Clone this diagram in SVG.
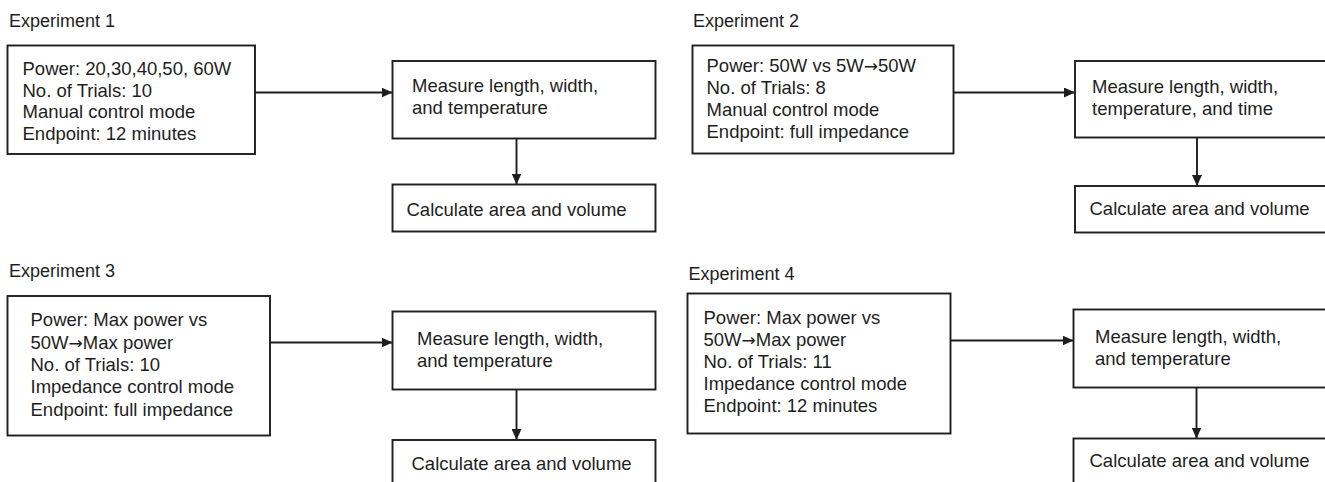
<svg xmlns="http://www.w3.org/2000/svg" width="1325" height="482" viewBox="0 0 1325 482">
  <style>
    .box { fill: #ffffff; stroke: #1e1e1e; stroke-width: 1.9; }
    .t { font-family: "Liberation Sans", Arial, sans-serif; font-size: 18.5px; fill: #1e1e1e; }
    .title { font-family: "Liberation Sans", Arial, sans-serif; font-size: 18px; fill: #1e1e1e; }
    .ar { font-family: "DejaVu Sans", sans-serif; font-size: 17px; }
    .edge { fill: none; stroke: #1e1e1e; stroke-width: 1.9; marker-end: url(#arrow); }
  </style>
  <defs>
    <marker id="arrow" markerWidth="11" markerHeight="10" refX="11" refY="5" orient="auto" markerUnits="userSpaceOnUse">
      <path d="M0,0 L11,5 L0,10 z" fill="#1e1e1e"/>
    </marker>
  </defs>
  <rect width="1325" height="482" fill="#ffffff"/>

  <!-- Experiment 1 -->
  <text class="title" x="9" y="26.5">Experiment 1</text>
  <g id="e1-setup">
    <rect class="box" x="7.5" y="45.5" width="247.5" height="108.5"/>
    <text class="t" x="22.5" y="75">Power: 20,30,40,50, 60W</text>
    <text class="t" x="22.5" y="96.5">No. of Trials: 10</text>
    <text class="t" x="22.5" y="118">Manual control mode</text>
    <text class="t" x="22.5" y="139.5">Endpoint: 12 minutes</text>
  </g>
  <g id="e1-measure">
    <rect class="box" x="392.5" y="61" width="263" height="77.5"/>
    <text class="t" x="412" y="92">Measure length, width,</text>
    <text class="t" x="412" y="113.5">and temperature</text>
  </g>
  <g id="e1-calc">
    <rect class="box" x="392.5" y="184.5" width="263" height="47"/>
    <text class="t" x="406.5" y="215.5">Calculate area and volume</text>
  </g>

  <!-- Experiment 2 -->
  <text class="title" x="693" y="27">Experiment 2</text>
  <g id="e2-setup">
    <rect class="box" x="692.5" y="45.5" width="261" height="108"/>
    <text class="t" x="706.5" y="72">Power: 50W vs 5W<tspan class="ar">→</tspan>50W</text>
    <text class="t" x="706.5" y="94">No. of Trials: 8</text>
    <text class="t" x="706.5" y="116">Manual control mode</text>
    <text class="t" x="706.5" y="138">Endpoint: full impedance</text>
  </g>
  <g id="e2-measure">
    <rect class="box" x="1075" y="61" width="263" height="76.5"/>
    <text class="t" x="1092" y="93">Measure length, width,</text>
    <text class="t" x="1092" y="114.5">temperature, and time</text>
  </g>
  <g id="e2-calc">
    <rect class="box" x="1075" y="186" width="263" height="46.5"/>
    <text class="t" x="1089.5" y="214.5">Calculate area and volume</text>
  </g>

  <!-- Experiment 3 -->
  <text class="title" x="9" y="277">Experiment 3</text>
  <g id="e3-setup">
    <rect class="box" x="7.5" y="296" width="262.5" height="139.5"/>
    <text class="t" x="30.5" y="326">Power: Max power vs</text>
    <text class="t" x="30.5" y="348.5">50W<tspan class="ar">→</tspan>Max power</text>
    <text class="t" x="30.5" y="371">No. of Trials: 10</text>
    <text class="t" x="30.5" y="393">Impedance control mode</text>
    <text class="t" x="30.5" y="415.5">Endpoint: full impedance</text>
  </g>
  <g id="e3-measure">
    <rect class="box" x="392.5" y="311.5" width="263" height="78"/>
    <text class="t" x="417" y="344.5">Measure length, width,</text>
    <text class="t" x="417" y="366.5">and temperature</text>
  </g>
  <g id="e3-calc">
    <rect class="box" x="392.5" y="440" width="263" height="60"/>
    <text class="t" x="411.5" y="469.5">Calculate area and volume</text>
  </g>

  <!-- Experiment 4 -->
  <text class="title" x="688.5" y="279.5">Experiment 4</text>
  <g id="e4-setup">
    <rect class="box" x="687.5" y="293.5" width="263" height="140"/>
    <text class="t" x="703.5" y="323.5">Power: Max power vs</text>
    <text class="t" x="703.5" y="345.5">50W<tspan class="ar">→</tspan>Max power</text>
    <text class="t" x="703.5" y="367.5">No. of Trials: 11</text>
    <text class="t" x="703.5" y="389.5">Impedance control mode</text>
    <text class="t" x="703.5" y="412">Endpoint: 12 minutes</text>
  </g>
  <g id="e4-measure">
    <rect class="box" x="1073.5" y="309.5" width="263" height="78"/>
    <text class="t" x="1095" y="342.5">Measure length, width,</text>
    <text class="t" x="1095" y="365">and temperature</text>
  </g>
  <g id="e4-calc">
    <rect class="box" x="1073.5" y="438.5" width="263" height="60"/>
    <text class="t" x="1089.5" y="467">Calculate area and volume</text>
  </g>

  <g id="connectors">
    <line class="edge" x1="255" y1="92.5" x2="392.5" y2="92.5"/>
    <line class="edge" x1="516.5" y1="138.5" x2="516.5" y2="184.5"/>
    <line class="edge" x1="953.5" y1="92.5" x2="1075" y2="92.5"/>
    <line class="edge" x1="1197" y1="137.5" x2="1197" y2="186"/>
    <line class="edge" x1="270" y1="342.5" x2="392.5" y2="342.5"/>
    <line class="edge" x1="516.5" y1="389.5" x2="516.5" y2="440"/>
    <line class="edge" x1="950.5" y1="340.5" x2="1073.5" y2="340.5"/>
    <line class="edge" x1="1196.5" y1="387.5" x2="1196.5" y2="438.5"/>
  </g>
</svg>
